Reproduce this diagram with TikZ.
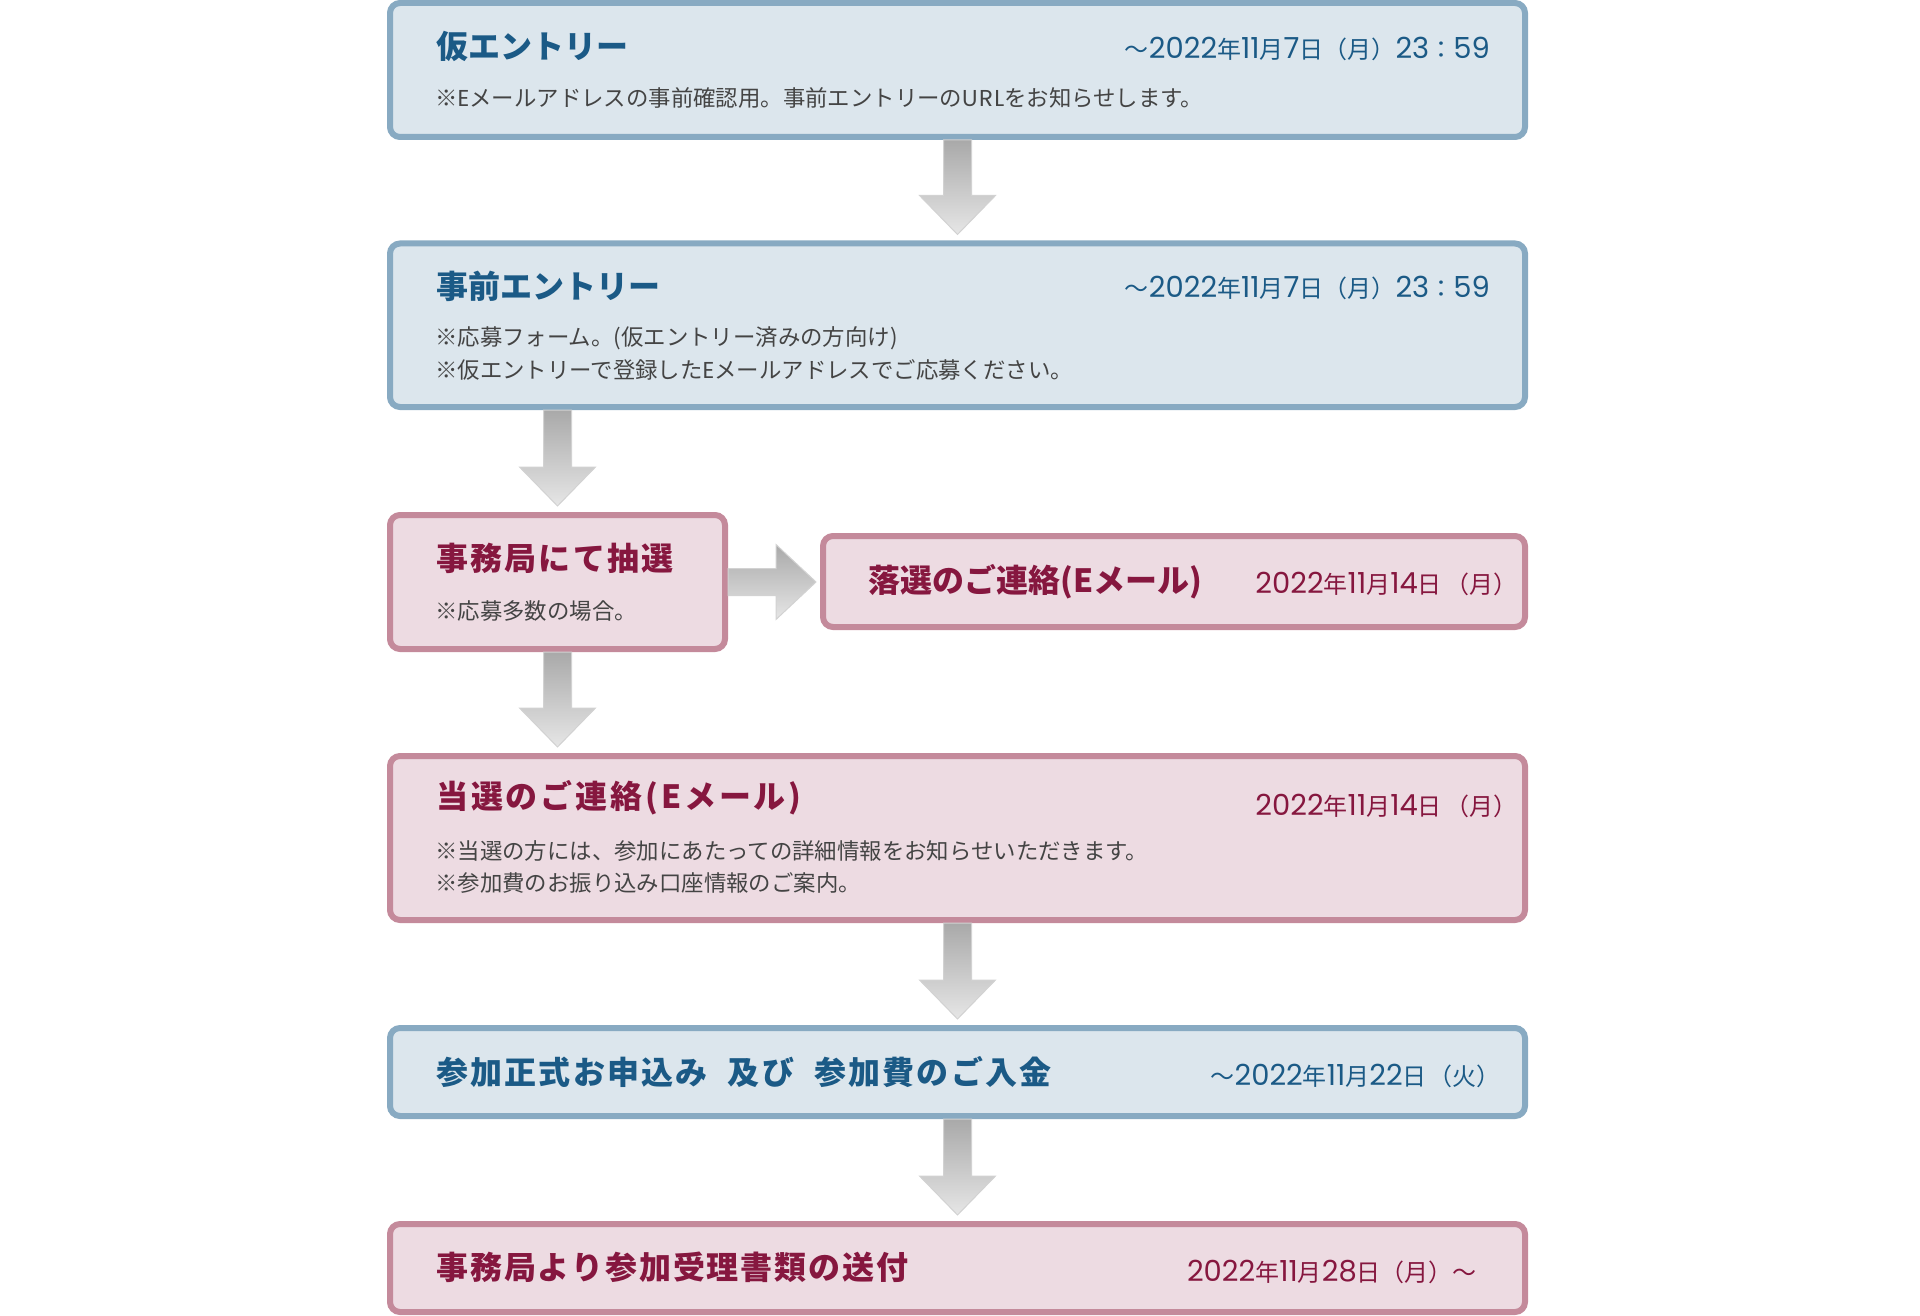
\documentclass[tikz,border=0pt]{standalone}
\usepackage{fontspec}
\newfontfamily\jp{Noto Sans CJK JP}
\newfontfamily\pop{Poppins}
\usetikzlibrary{calc}
\definecolor{bluefill}{HTML}{DCE6ED}
\definecolor{blueborder}{HTML}{88AAC2}
\definecolor{bluetext}{HTML}{1B5A86}
\definecolor{pinkfill}{HTML}{EDDBE2}
\definecolor{pinkborder}{HTML}{C48A9B}
\definecolor{pinktext}{HTML}{86173F}
\definecolor{bodytext}{HTML}{444444}
\definecolor{arrowtop}{HTML}{A9A9A9}
\definecolor{arrowbot}{HTML}{E6E6E6}
\definecolor{arrowedge}{HTML}{D2D2D2}
\newcommand\dg[1]{{\pop\fontsize{29pt}{32pt}\selectfont #1}}
\newcommand\lat[1]{{\pop\fontsize{23pt}{28pt}\selectfont\addfontfeature{LetterSpace=6}#1}}
\newcommand\lsp[1]{\addfontfeature{LetterSpace=#1}}
\newcommand\fatdown[2]{%
  \path[arrowfill] let \p1=(#1), \p2=(#2) in
    (\x1-14pt,\y1) -- (\x1+14pt,\y1) -- (\x1+14pt,\y2+45pt) -- (\x1+38pt,\y2+45pt)
    -- (\x1,\y2+6pt) -- (\x1-38pt,\y2+45pt) -- (\x1-14pt,\y2+45pt) -- cycle;}
\begin{document}
\begin{tikzpicture}[x=1pt,y=-1pt,
  boxbase/.style={rounded corners=10pt, line width=6pt, inner sep=0pt, anchor=north west},
  bluebox/.style={boxbase, draw=blueborder, fill=bluefill},
  pinkbox/.style={boxbase, draw=pinkborder, fill=pinkfill},
  ttl/.style={inner sep=0pt, anchor=west, font=\jp\bfseries\fontsize{32pt}{38pt}\selectfont},
  bttl/.style={ttl, text=bluetext},
  pttl/.style={ttl, text=pinktext},
  body/.style={inner sep=0pt, anchor=west, text=bodytext, font=\jp\fontsize{22.4pt}{28pt}\selectfont},
  datebase/.style={inner sep=0pt, anchor=base east, font=\jp\fontsize{24pt}{28pt}\selectfont},
  bdate/.style={datebase, text=bluetext},
  pdate/.style={datebase, text=pinktext},
  arrowfill/.style={top color=arrowtop, bottom color=arrowbot, draw=arrowedge, line width=1pt}
]
\useasboundingbox (0,0) rectangle (1920,1316);

% boxes
\node[bluebox, minimum width=1135pt, minimum height=134pt] (b1) at (387,0) {};
\node[bluebox, minimum width=1135pt, minimum height=163.5pt] (b2) at (387,240.5) {};
\node[pinkbox, minimum width=335pt, minimum height=134pt] (b3) at (387,512) {};
\node[pinkbox, minimum width=702pt, minimum height=91pt] (b4) at (820,533) {};
\node[pinkbox, minimum width=1135pt, minimum height=164pt] (b5) at (387,753) {};
\node[bluebox, minimum width=1135pt, minimum height=88pt] (b6) at (387,1025) {};
\node[pinkbox, minimum width=1135pt, minimum height=88pt] (b7) at (387,1221) {};

% arrows
\fatdown{b1.south}{b2.north}
\fatdown{b2.south -| b3.north}{b3.north}
\fatdown{b3.south}{b5.north -| b3.south}
\fatdown{b5.south}{b6.north}
\fatdown{b6.south}{b7.north}
\path[arrowfill] let \p1=(b3.east), \p2=(b4.west) in
  (\x1,\y1+13.5pt) -- (\x2-44pt,\y1+13.5pt) -- (\x2-44pt,\y1+37.5pt) -- (\x2-4pt,\y1)
  -- (\x2-44pt,\y1-37.5pt) -- (\x2-44pt,\y1-13.5pt) -- (\x1,\y1-13.5pt) -- cycle;

% box 1
\node[bttl] (t1) at (436,46) {仮エントリー};
\node[body] (s1) at (435,97.5) {※\lat{E}メールアドレスの事前確認用。事前エントリーの\lat{URL}をお知らせします。};
\node[bdate] (d1) at (1490,59) {～\dg{2022}年\dg{11}月\dg{7}日（月）\dg{23}：\dg{59}};

% box 2
\node[bttl] (t2) at (436,286) {事前エントリー};
\node[body] (s2a) at (435,338) {※応募フォーム。(仮エントリー済みの方向け)};
\node[body] (s2b) at (435,370) {※仮エントリーで登録した\lat{E}メールアドレスでご応募ください。};
\node[bdate] (d2) at (1490,298) {～\dg{2022}年\dg{11}月\dg{7}日（月）\dg{23}：\dg{59}};

% box 3
\node[pttl] (t3) at (436,558) {\lsp{7}事務局にて抽選};
\node[body] (s3) at (435,611) {※応募多数の場合。};

% box 4
\node[pttl] (t4) at (868,582) {落選のご連絡(Eメール)};
\node[pdate] (d4) at (1518,593) {\dg{2022}年\dg{11}月\dg{14}日\hspace{4pt}（月）};

% box 5
\node[pttl] (t5) at (436,798) {\lsp{9}当選のご連絡(Eメール)};
\node[body] (s5a) at (435,851) {※当選の方には、参加にあたっての詳細情報をお知らせいただきます。};
\node[body] (s5b) at (435,883) {※参加費のお振り込み口座情報のご案内。};
\node[pdate] (d5) at (1518,815) {\dg{2022}年\dg{11}月\dg{14}日\hspace{4pt}（月）};

% box 6
\node[bttl] (t6) at (436,1072) {\lsp{7}参加正式お申込み\hspace{20pt}及び\hspace{20pt}参加費のご入金};
\node[bdate] (d6) at (1501,1085) {～\dg{2022}年\dg{11}月\dg{22}日\hspace{2pt}（火）};

% box 7
\node[pttl] (t7) at (436,1267.5) {\lsp{6}事務局より参加受理書類の送付};
\node[pdate] (d7) at (1477,1281) {\dg{2022}年\dg{11}月\dg{28}日（月）～};
\end{tikzpicture}
\end{document}
